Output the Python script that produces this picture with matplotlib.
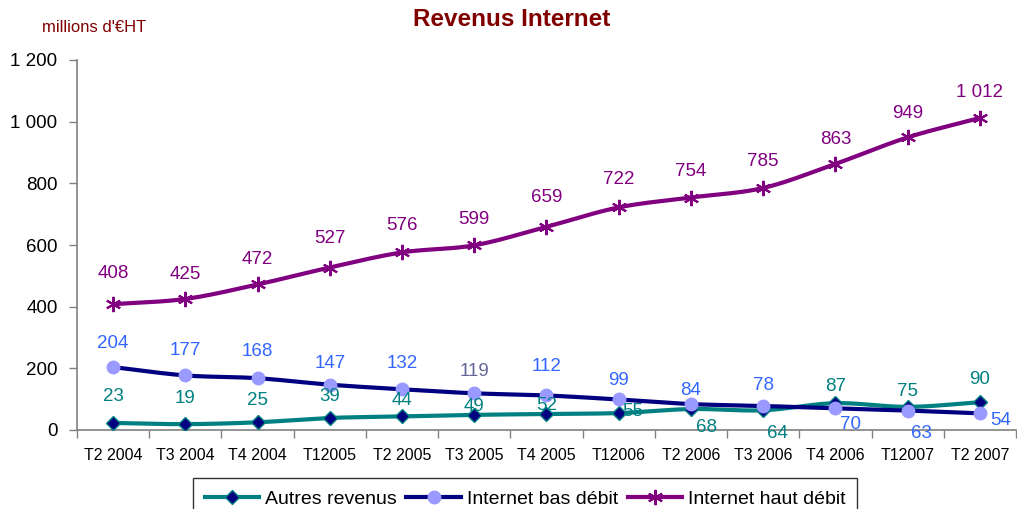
import numpy as np
import matplotlib
matplotlib.use("Agg")
import matplotlib.pyplot as plt
from matplotlib.ticker import FixedLocator, FuncFormatter

plt.rcParams['font.family'] = ['Liberation Sans', 'DejaVu Sans']

categories = ["T2 2004", "T3 2004", "T4 2004", "T12005", "T2 2005", "T3 2005",
              "T4 2005", "T12006", "T2 2006", "T3 2006", "T4 2006", "T12007", "T2 2007"]
autres = [23, 19, 25, 39, 44, 49, 52, 55, 68, 64, 87, 75, 90]
bas_debit = [204, 177, 168, 147, 132, 119, 112, 99, 84, 78, 70, 63, 54]
haut_debit = [408, 425, 472, 527, 576, 599, 659, 722, 754, 785, 863, 949, 1012]

# label offsets in pixels: (dx, dy of label centre above point, horizontal alignment)
autres_off = [(0, 26, "c"), (0, 26, "c"), (0, 22, "c"), (0, 21, "c"), (0, 16, "c"),
              (0, 8, "c"), (0, 8, "c"), (3, 2, "l"), (16, -18, "c"), (14, -23, "c"),
              (0, 17, "c"), (0, 15, "c"), (0, 23, "c")]
bas_off = [(0, 24, "c"), (0, 25, "c"), (0, 27, "c"), (0, 21, "c"), (0, 26, "c"),
           (0, 22, "c"), (0, 29, "c"), (0, 19, "c"), (0, 14, "c"), (0, 20, "c"),
           (15, -16, "c"), (14, -23, "c"), (10, -7, "l")]
haut_off = [(0, 31, "c"), (0, 24, "c"), (0, 25, "c"), (0, 29, "c"), (0, 27, "c"),
            (0, 26, "c"), (0, 29, "c"), (0, 28, "c"), (0, 26, "c"), (0, 26, "c"),
            (0, 24, "c"), (0, 24, "c"), (0, 25, "c")]


def fmt(v):
    return f"{v:,}".replace(",", " ")


def smooth(x, y, n=20):
    x = np.asarray(x, float); y = np.asarray(y, float)
    px = np.concatenate([[2 * x[0] - x[1]], x, [2 * x[-1] - x[-2]]])
    py = np.concatenate([[2 * y[0] - y[1]], y, [2 * y[-1] - y[-2]]])
    xs, ys = [], []
    for i in range(1, len(px) - 2):
        t = np.linspace(0, 1, n, endpoint=False)
        for arr, out in ((px, xs), (py, ys)):
            p0, p1, p2, p3 = arr[i - 1], arr[i], arr[i + 1], arr[i + 2]
            out.extend(0.5 * ((2 * p1) + (-p0 + p2) * t + (2 * p0 - 5 * p1 + 4 * p2 - p3) * t ** 2
                              + (-p0 + 3 * p1 - 3 * p2 + p3) * t ** 3))
    xs.append(x[-1]); ys.append(y[-1])
    return np.array(xs), np.array(ys)


fig = plt.figure(figsize=(10.17, 5.09), dpi=100)
ax = fig.add_axes([77 / 1017, 1 - 430 / 509, 1 - 77 / 1017 - 0.001, 370 / 509])

x = np.arange(len(categories))
teal = "#008080"; navy = "#000080"; purple = "#800080"

sx, sy = smooth(x, autres)
ax.plot(sx, sy, color=teal, lw=3, zorder=3)
ax.plot(x, autres, ls="none", marker="D", ms=7, mfc=navy, mec=teal, mew=1, zorder=4)
sx, sy = smooth(x, bas_debit)
ax.plot(sx, sy, color=navy, lw=3, zorder=3)
ax.plot(x, bas_debit, ls="none", marker="o", ms=9, mfc="#9999FF", mec="#9999FF", zorder=4)
sx, sy = smooth(x, haut_debit)
ax.plot(sx, sy, color=purple, lw=3, zorder=3)
ax.plot(x, haut_debit, ls="none", marker=(6, 2, 0), ms=11, mec=purple, mew=1.5, zorder=4)

# legend proxies
h1, = ax.plot([], [], color=teal, lw=3, marker="D", ms=7, mfc=navy, mec=teal)
h2, = ax.plot([], [], color=navy, lw=3, marker="o", ms=9, mfc="#9999FF", mec="#9999FF")
h3, = ax.plot([], [], color=purple, lw=3, marker=(6, 2, 0), ms=11, mec=purple, mew=1.5)

PT = 0.72  # points per pixel at 100 dpi


def place(v, i, off, color):
    dx, dy, al = off
    ax.annotate(fmt(v), (i, v), xytext=(dx * PT, dy * PT), textcoords="offset points",
                ha="left" if al == "l" else "center", va="center",
                color=color, fontsize=13.5, zorder=5)


for i, v in enumerate(haut_debit):
    place(v, i, haut_off[i], purple)
for i, v in enumerate(bas_debit):
    place(v, i, bas_off[i], "#666699" if i == 5 else "#3366FF")
for i, v in enumerate(autres):
    place(v, i, autres_off[i], teal)

ax.set_xlim(-0.5, len(categories) - 0.5)
ax.set_ylim(0, 1200)
ax.yaxis.set_major_locator(FixedLocator(np.arange(0, 1201, 200)))
ax.yaxis.set_major_formatter(FuncFormatter(lambda v, p: fmt(int(v))))
ax.set_xticks(x)
ax.set_xticklabels(categories, fontsize=11.5)
ax.set_xticks(np.arange(-0.5, len(categories), 1), minor=True)
ax.tick_params(axis="x", which="major", length=0, pad=13)
ax.tick_params(axis="x", which="minor", length=6, width=1, color="#808080")
ax.tick_params(axis="y", length=6, width=1, color="#808080", labelsize=13.5, pad=8)
for s in ("top", "right"):
    ax.spines[s].set_visible(False)
for s in ("left", "bottom"):
    ax.spines[s].set_color("#808080")
    ax.spines[s].set_linewidth(1.2)

fig.text(512 / 1017, 1 - 19 / 509, "Revenus Internet", ha="center", va="center",
         fontsize=17.5, fontweight="bold", color="#800000")
fig.text(42 / 1017, 1 - 28 / 509, "millions d'€HT", ha="left", va="center",
         fontsize=12, color="#800000")

leg = fig.legend([h1, h2, h3], ["Autres revenus", "Internet bas débit", "Internet haut débit"],
                 loc="lower center", bbox_to_anchor=(525 / 1017, -0.02), ncol=3, fontsize=14,
                 frameon=True, fancybox=False, edgecolor="black", handlelength=2.8,
                 columnspacing=0.5, handletextpad=0.3, borderpad=0.6, borderaxespad=0)
leg.get_frame().set_linewidth(1)

fig.savefig("out.png", dpi=100)
